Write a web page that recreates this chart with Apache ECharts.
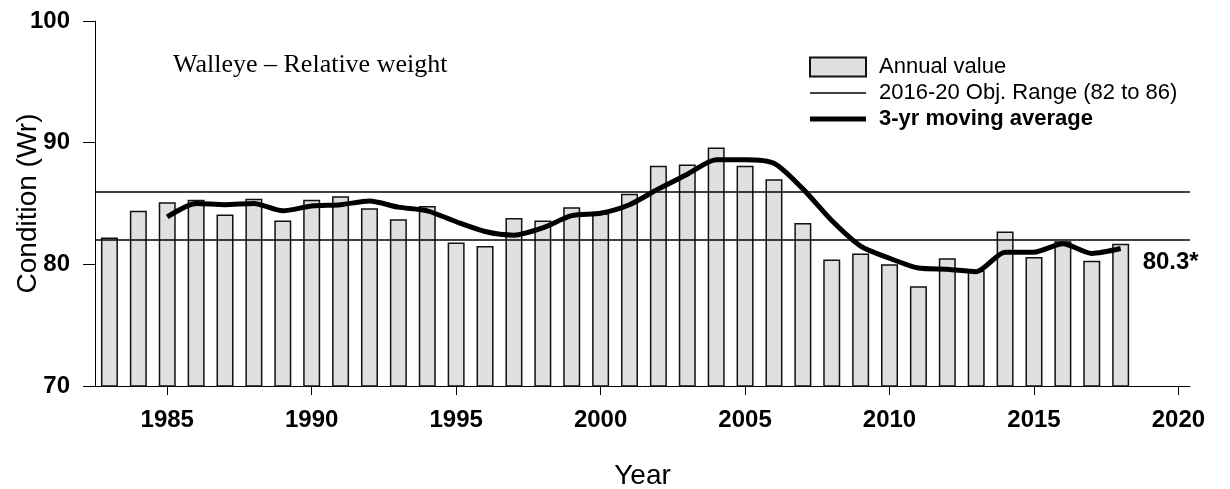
<!DOCTYPE html>
<html>
<head>
<meta charset="utf-8">
<script src="https://cdn.jsdelivr.net/npm/echarts@6/dist/echarts.min.js"></script>
<style>
html,body{margin:0;padding:0;background:#fff;}
#chart{width:1230px;height:489px;}
</style>
</head>
<body>
<div id="chart"></div>
<script>
const years = [1983,1984,1985,1986,1987,1988,1989,1990,1991,1992,1993,1994,1995,1996,1997,1998,1999,2000,2001,2002,2003,2004,2005,2006,2007,2008,2009,2010,2011,2012,2013,2014,2015,2016,2017,2018];
const annualValues = [82.2,84.4,85.1,85.3,84.1,85.4,83.6,85.3,85.6,84.6,83.7,84.8,81.8,81.5,83.8,83.6,84.7,84.2,85.8,88.1,88.2,89.6,88.1,87.0,83.4,80.4,80.9,80.0,78.2,80.5,79.5,82.7,80.6,81.9,80.3,81.7];
const maYears = [1985,1986,1987,1988,1989,1990,1991,1992,1993,1994,1995,1996,1997,1998,1999,2000,2001,2002,2003,2004,2005,2006,2007,2008,2009,2010,2011,2012,2013,2014,2015,2016,2017,2018];
const maValues = [83.9,85.0,84.9,85.0,84.4,84.8,84.9,85.2,84.7,84.4,83.5,82.7,82.4,83.0,84.0,84.2,84.9,86.2,87.4,88.6,88.6,88.3,86.2,83.6,81.5,80.5,79.7,79.6,79.4,81.0,81.0,81.7,80.9,81.3];
const objectiveRange = [82, 86];
const xTickValues = [1985,1990,1995,2000,2005,2010,2015,2020];
const yTickValues = [70,80,90,100];
const endLabelText = '80.3*';
const chartTitle = 'Walleye \u2013 Relative weight';
const seriesNames = ['Annual value', '2016-20 Obj. Range (82 to 86)', '3-yr moving average'];
const xAxisName = 'Year';
const yAxisName = 'Condition (Wr)';

const SANS = '"Liberation Sans", Arial, sans-serif';
const chart = echarts.init(document.getElementById('chart'), null, {renderer: 'canvas'});

chart.setOption({
  animation: false,
  backgroundColor: '#ffffff',
  textStyle: {fontFamily: SANS},
  grid: {left: 95, right: 40, top: 21, bottom: 103, containLabel: false, outerBoundsMode: 'none'},
  graphic: [{
    type: 'text', left: 173, top: 52,
    style: {text: chartTitle, font: '26px "Liberation Serif", "Times New Roman", serif', fill: '#000'}
  }],
  legend: {
    orient: 'vertical', left: 804, top: 51, itemWidth: 56, itemHeight: 19, itemGap: 4,
    selectedMode: false, symbolKeepAspect: true,
    textStyle: {fontFamily: SANS, fontSize: 22, color: '#000', padding: [0,0,0,8]},
    data: [
      {name: seriesNames[0], icon: 'rect'},
      {name: seriesNames[1], icon: 'path://M0,0L56,0L56,1.5L0,1.5Z'},
      {name: seriesNames[2], icon: 'path://M0,0L56,0L56,5L0,5Z', textStyle: {fontWeight: 'bold'}}
    ]
  },
  xAxis: {
    type: 'value', min: 1982.5, max: 2020.4,
    name: xAxisName, nameLocation: 'middle', nameGap: 76, nameMoveOverlap: false,
    nameTextStyle: {fontFamily: SANS, fontSize: 28, color: '#000'},
    axisLine: {show: true, lineStyle: {color: '#000', width: 1}},
    axisTick: {show: true, length: 9, inside: false, customValues: xTickValues, lineStyle: {color: '#000', width: 1}},
    axisLabel: {customValues: xTickValues, margin: 22, fontFamily: SANS, fontSize: 24, fontWeight: 'bold', color: '#000', formatter: v => String(v)},
    splitLine: {show: false}
  },
  yAxis: {
    type: 'value', min: 70, max: 100,
    name: yAxisName, nameLocation: 'middle', nameGap: 53, nameRotate: 90, nameMoveOverlap: false,
    nameTextStyle: {fontFamily: SANS, fontSize: 28, color: '#000'},
    axisLine: {show: true, lineStyle: {color: '#000', width: 1}},
    axisTick: {show: true, length: 12, customValues: yTickValues, lineStyle: {color: '#000', width: 1}},
    axisLabel: {customValues: yTickValues, margin: 25, fontFamily: SANS, fontSize: 24, fontWeight: 'bold', color: '#000'},
    splitLine: {show: false}
  },
  series: [
    {
      name: seriesNames[0], type: 'bar', barWidth: 17,
      data: years.map((y, i) => [y, annualValues[i]]),
      itemStyle: {color: '#e0e0e0', borderColor: '#111', borderWidth: 1.5},
      z: 2
    },
    {
      name: seriesNames[1], type: 'line', data: [], symbol: 'none',
      itemStyle: {color: '#000'},
      lineStyle: {color: '#000', width: 1.5},
      markLine: {
        silent: true, symbol: ['none','none'], label: {show: false},
        lineStyle: {color: '#000', width: 1.5, type: 'solid'},
        data: objectiveRange.map(v => ({yAxis: v}))
      },
      z: 3
    },
    {
      name: seriesNames[2], type: 'line', smooth: 0.25, symbol: 'none',
      data: maYears.map((y, i) => [y, maValues[i]]),
      itemStyle: {color: '#000'},
      lineStyle: {color: '#000', width: 5},
      endLabel: {show: true, formatter: () => endLabelText, fontFamily: SANS, fontSize: 24, fontWeight: 'bold', color: '#000', distance: 22, offset: [0, 14]},
      z: 4
    }
  ]
});
</script>
</body>
</html>
